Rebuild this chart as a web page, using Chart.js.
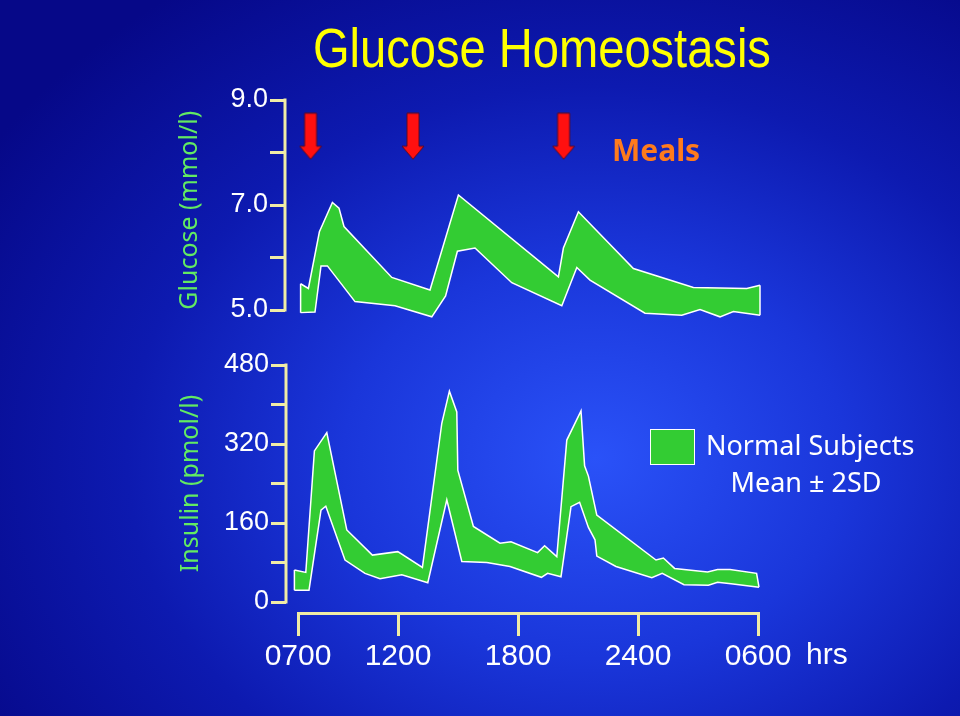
<!DOCTYPE html>
<html>
<head>
<meta charset="utf-8">
<title>Glucose Homeostasis</title>
<script src="https://cdn.jsdelivr.net/npm/chart.js@4.4.1/dist/chart.umd.min.js"></script>
<style>
  html, body { margin: 0; padding: 0; }
  body {
    width: 960px; height: 716px; overflow: hidden; position: relative;
    background: radial-gradient(ellipse 75% 80% at 62% 64%, #2a52f8 0%, #1a36da 35%, #0d1ab0 65%, #060888 100%);
  }
  canvas { position: absolute; left: 0; top: 0; }
  .txt { position: absolute; white-space: nowrap; }
  #title {
    left: 313px; top: 21px; font-family: "Liberation Sans", Arial, sans-serif; font-size: 55px;
    line-height: 55px; color: #ffff00; transform: scaleX(0.856); transform-origin: left top;
  }
  #meals { left: 612px; top: 135px; font: bold 30px/30px "Noto Sans", sans-serif; color: #ff7b1c; }
  #legendBox {
    position: absolute; left: 650px; top: 429px; width: 45px; height: 36px;
    box-sizing: border-box; border: 1.5px solid #ffffff; background: #33cc33;
  }
  #legendText { left: 706px; top: 426px; width: 200px; text-align: center; font: 27px/37px "Noto Sans", sans-serif; color: #ffffff; }
  #hrs { left: 806px; top: 639px; font: 30px/30px "Liberation Sans", Arial, sans-serif; color: #ffffff; }
</style>
</head>
<body>
<canvas id="glucoseChart" width="960" height="716"></canvas>
<canvas id="insulinChart" width="960" height="716"></canvas>
<canvas id="timeAxis" width="960" height="716"></canvas>
<div class="txt" id="title">Glucose Homeostasis</div>
<div class="txt" id="meals">Meals</div>
<div id="legendBox"></div>
<div class="txt" id="legendText">Normal Subjects<br>Mean ± 2SD</div>
<div class="txt" id="hrs">hrs</div>
<script>
// time of day in hours (7 = 0700, 30 = 0600 next morning)
const timeTicks = [7, 12, 18, 24, 30];
const timeLabels = ['0700', '1200', '1800', '2400', '0600'];

// glucose band, mmol/l (mean ± 2SD)
const glucoseUpperTime = [7.13, 7.52, 8.07, 8.72, 9.05, 9.3, 11.69, 13.6, 15.02, 20.02, 20.27, 21.02, 23.77, 26.77, 29.44, 30.1];
const glucoseUpper = [5.5, 5.41, 6.49, 7.05, 6.94, 6.59, 5.62, 5.38, 7.19, 5.63, 6.18, 6.87, 5.79, 5.43, 5.41, 5.47];
const glucoseLowerTime = [7.13, 7.85, 8.15, 8.47, 9.85, 11.85, 13.69, 14.38, 14.97, 15.85, 17.69, 20.19, 20.94, 21.6, 24.35, 26.19, 27.1, 28.1, 28.77, 30.1];
const glucoseLower = [4.95, 4.96, 5.84, 5.84, 5.16, 5.08, 4.87, 5.27, 6.12, 6.18, 5.52, 5.08, 5.81, 5.57, 4.94, 4.9, 5.01, 4.87, 4.97, 4.9];

// insulin band, pmol/l (mean ± 2SD)
const insulinUpperTime = [6.82, 7.39, 7.82, 8.44, 9.44, 10.72, 11.99, 13.22, 14.19, 14.57, 14.94, 14.99, 15.77, 17.1, 17.65, 18.98, 19.33, 19.94, 20.44, 21.15, 21.33, 21.52, 21.94, 24.9, 25.27, 25.83, 27.48, 27.98, 28.6, 29.93, 30.05];
const insulinUpper = [65, 60, 306, 343, 146, 95, 102, 70, 362, 427, 385, 267, 153, 119, 122, 100, 114, 92, 328, 387, 276, 255, 176, 85, 89, 68, 61, 66, 66, 58, 30];
const insulinLowerTime = [6.82, 7.55, 8.15, 8.39, 9.35, 10.35, 11.1, 12.19, 13.49, 14.44, 15.19, 16.44, 17.6, 19.17, 19.48, 20.15, 20.65, 21.08, 21.52, 21.85, 21.94, 22.9, 24.69, 25.21, 26.3, 27.52, 27.98, 28.65, 30.05];
const insulinLower = [24, 24, 186, 194, 85, 58, 47, 55, 39, 207, 82, 80, 72, 50, 58, 51, 193, 202, 151, 126, 93, 72, 49, 58, 35, 34, 40, 37, 30];

// meals (arrows)
const mealTimes = [7.63, 12.75, 20.28];
const mealMarkerLevel = 8.31;

const glucoseTicks = [5, 6, 7, 8, 9];
const glucoseTickLabels = ['5.0', '', '7.0', '', '9.0'];
const insulinTicks = [0, 80, 160, 240, 320, 400, 480];
const insulinTickLabels = ['0', '', '160', '', '320', '', '480'];

const AXIS = '#f0eca6';
const BAND = '#33cc33';
const TICK_FONT = { family: '"Liberation Sans", Arial, sans-serif', size: 27 };
const TITLE_FONT = { family: '"Noto Sans", sans-serif', size: 25 };

const pts = (xs, ys) => xs.map((x, i) => ({ x: x, y: ys[i] }));

function arrowImage() {
    const c = document.createElement('canvas');
    c.width = 24; c.height = 48;
    const g = c.getContext('2d');
    g.beginPath();
    g.moveTo(6, 1); g.lineTo(18, 1); g.lineTo(18, 34); g.lineTo(23, 34);
    g.lineTo(12, 47); g.lineTo(1, 34); g.lineTo(6, 34); g.closePath();
    g.fillStyle = '#ff1010'; g.fill();
    g.strokeStyle = '#5a0a24'; g.lineWidth = 1; g.stroke();
    return c;
}

// vertical axis line from the first to the last tick only
const axisLine = {
    id: 'axisLine',
    afterDraw(chart) {
        const s = chart.scales.y;
        const ctx = chart.ctx;
        const top = s.getPixelForValue(s.ticks[s.ticks.length - 1].value);
        const bottom = s.getPixelForValue(s.ticks[0].value);
        ctx.save();
        ctx.strokeStyle = AXIS;
        ctx.lineWidth = 3;
        ctx.beginPath();
        ctx.moveTo(s.right, top - 1.5);
        ctx.lineTo(s.right, bottom + 1.5);
        ctx.stroke();
        ctx.restore();
    }
};

function bandSets(upT, up, loT, lo) {
    const line = { borderColor: '#ffffff', borderWidth: 1.5, pointRadius: 0, tension: 0, clip: false };
    const edge = (t, a, b) => ({ ...line, data: [{ x: t, y: a }, { x: t, y: b }], fill: false, order: 0 });
    const sets = [
        { ...line, label: 'upper', data: pts(upT, up), backgroundColor: BAND, fill: '+1', order: 2 },
        { ...line, label: 'lower', data: pts(loT, lo), fill: false, order: 1 },
        edge(upT[0], up[0], lo[0])
    ];
    const n = up.length - 1, m = lo.length - 1;
    if (up[n] !== lo[m]) sets.push(edge(upT[n], up[n], lo[m]));
    return sets;
}

function yScale(min, max, ticks, labels, title, titleColor) {
    return {
        min: min, max: max,
        afterBuildTicks: s => { s.ticks = ticks.map(v => ({ value: v })); },
        afterFit: s => { s.width = 115; },
        border: { display: false },
        grid: { drawOnChartArea: false, drawTicks: true, tickLength: 15, lineWidth: 3, color: AXIS },
        ticks: {
            color: '#ffffff', font: TICK_FONT, padding: 2, autoSkip: false,
            callback: v => labels[ticks.indexOf(v)]
        },
        title: { display: true, text: title, color: titleColor, font: TITLE_FONT, padding: { top: 5, bottom: 0 } }
    };
}

const common = {
    responsive: false,
    animation: false,
    events: [],
    plugins: { legend: { display: false }, tooltip: { enabled: false } }
};

// 1. glucose panel
const glucoseSets = bandSets(glucoseUpperTime, glucoseUpper, glucoseLowerTime, glucoseLower);
glucoseSets.push({
    label: 'meals',
    data: mealTimes.map(t => ({ x: t, y: mealMarkerLevel })),
    showLine: false, pointStyle: arrowImage(), pointRadius: 12, clip: false, order: 3
});
new Chart(document.getElementById('glucoseChart'), {
    type: 'line',
    data: { datasets: glucoseSets },
    options: {
        ...common,
        layout: { autoPadding: false, padding: { left: 170, top: 100, right: 192, bottom: 395.5 } },
        scales: {
            x: { type: 'linear', min: 6.35, max: 30.5, display: false },
            y: yScale(4.8, 9, glucoseTicks, glucoseTickLabels, 'Glucose (mmol/l)', '#62ea62')
        }
    },
    plugins: [axisLine]
});

// 2. insulin panel
new Chart(document.getElementById('insulinChart'), {
    type: 'line',
    data: { datasets: bandSets(insulinUpperTime, insulinUpper, insulinLowerTime, insulinLower) },
    options: {
        ...common,
        layout: { autoPadding: false, padding: { left: 171, top: 365, right: 192, bottom: 114 } },
        scales: {
            x: { type: 'linear', min: 6.4, max: 30.5, display: false },
            y: yScale(0, 480, insulinTicks, insulinTickLabels, 'Insulin (pmol/l)', '#62ea62')
        }
    },
    plugins: [axisLine]
});

// 3. shared time axis (bracket below the panels)
new Chart(document.getElementById('timeAxis'), {
    type: 'line',
    data: { datasets: [] },
    options: {
        ...common,
        layout: { autoPadding: false, padding: { left: 298, top: 590, right: 202, bottom: 23 } },
        scales: {
            x: {
                type: 'linear', min: 7, max: 30,
                afterBuildTicks: s => { s.ticks = timeTicks.map(v => ({ value: v })); },
                afterFit: s => { s.height = 80; },
                border: { display: true, color: AXIS, width: 3 },
                grid: { drawOnChartArea: false, drawTicks: true, tickLength: 23, lineWidth: 3, color: AXIS },
                ticks: {
                    color: '#ffffff', font: { family: '"Liberation Sans", Arial, sans-serif', size: 30 },
                    padding: 3, autoSkip: false, maxRotation: 0,
                    callback: v => timeLabels[timeTicks.indexOf(v)]
                }
            },
            y: { display: false, min: 0, max: 1 }
        }
    }
});
</script>
</body>
</html>
